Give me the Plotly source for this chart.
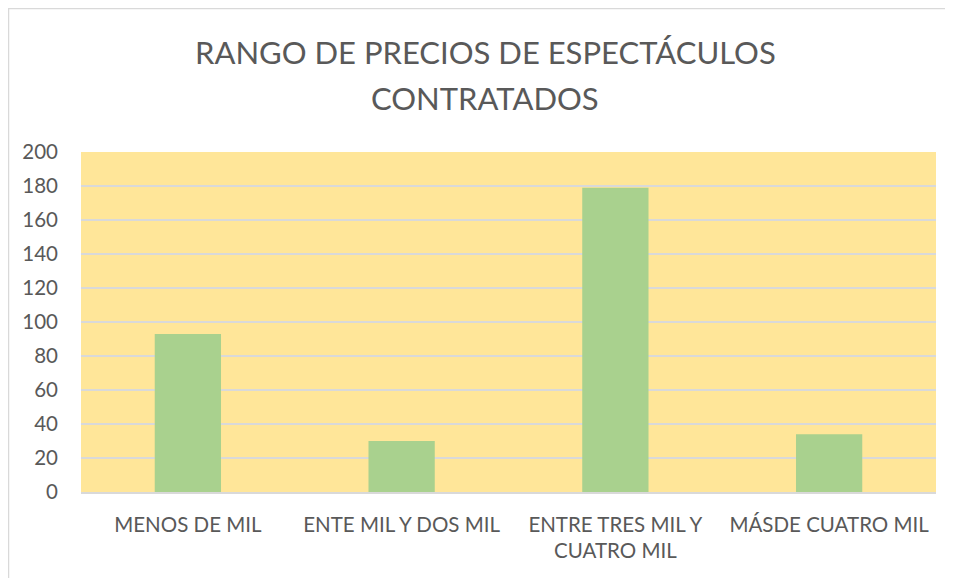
import plotly.graph_objects as go

categories = ["MENOS DE MIL", "ENTE MIL Y DOS MIL", "ENTRE TRES MIL Y<br>CUATRO MIL", "MÁSDE CUATRO MIL"]
values = [93, 30, 179, 34]
y_ticks = [0, 20, 40, 60, 80, 100, 120, 140, 160, 180, 200]
title_lines = ["RANGO DE PRECIOS DE ESPECTÁCULOS", "CONTRATADOS"]

FONT = "Lato"
GREY = "#595959"

# page has an 8px body margin; figure is sized to fit the window
W, H = 945, 570
L, R, T, B = 73, 17, 144, 86
PW, PH = W - L - R, H - T - B

fig = go.Figure(go.Bar(
    x=categories, y=values,
    marker=dict(color="#A9D18E", line=dict(width=0)),
    hoverinfo="x+y",
))

title_centers = [44, 90]  # pixel centre of each title line (figure coords)
annotations = [
    dict(
        text=line,
        font=dict(family=FONT, size=31, color=GREY),
        xref="paper", yref="paper",
        x=(477 - L) / PW, xanchor="center",
        y=1 + (T - cy) / PH, yanchor="middle",
        showarrow=False,
    )
    for line, cy in zip(title_lines, title_centers)
]

fig.update_layout(
    width=W, height=H,
    margin=dict(l=L, r=R, t=T, b=B),
    paper_bgcolor="white",
    plot_bgcolor="#FFE699",
    bargap=0.69,
    showlegend=False,
    font=dict(family=FONT, color=GREY, size=20),
    xaxis=dict(
        showgrid=False, showline=True, linecolor="#D9D9D9", linewidth=2,
        ticks="", ticklabelstandoff=13,
        tickfont=dict(family=FONT, size=20.5, color=GREY),
    ),
    yaxis=dict(
        range=[0, 200], tickvals=y_ticks,
        showgrid=True, gridcolor="#D9D9D9", gridwidth=2,
        zeroline=False, showline=False, ticks="",
        ticklabelstandoff=22,
        tickfont=dict(family=FONT, size=20.5, color=GREY),
    ),
    annotations=annotations,
    shapes=[dict(
        type="rect", xref="paper", yref="paper",
        x0=(0.5 - L) / PW, x1=(W + 10 - L) / PW,
        y0=-(B + 10) / PH, y1=1 + (T - 0.5) / PH,
        line=dict(color="#D9D9D9", width=1.5), fillcolor="rgba(0,0,0,0)",
        layer="below",
    )],
)

fig.write_html("out.html")
